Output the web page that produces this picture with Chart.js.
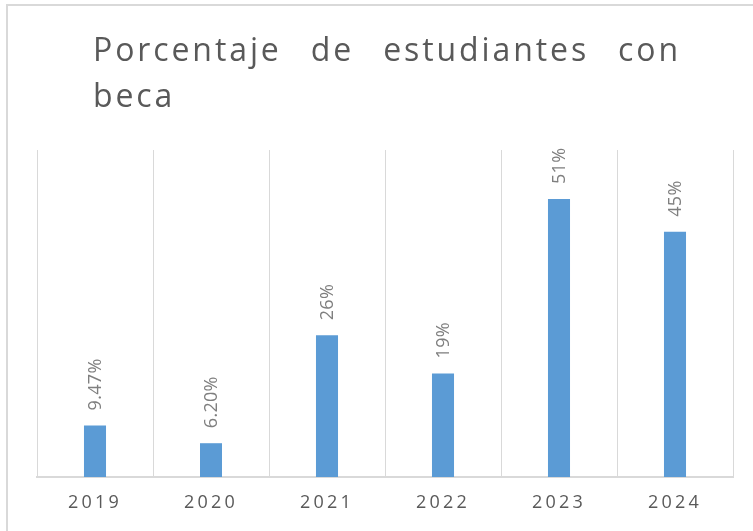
<!DOCTYPE html>
<html>
<head>
<meta charset="utf-8">
<script src="https://cdn.jsdelivr.net/npm/chart.js@4/dist/chart.umd.min.js"></script>
<style>
  html, body { margin: 0; padding: 0; background: #ffffff; overflow: hidden; }
  #wrap { position: relative; width: 753px; height: 531px; }
  #frame { position: absolute; left: 6px; top: 4px; width: 800px; height: 600px;
           border-left: 2px solid #d9d9d9; border-top: 2px solid #d9d9d9; box-sizing: border-box; }
  #title { position: absolute; left: 93px; top: 26px; width: 588px;
           font-family: "Open Sans", sans-serif; font-size: 32px; line-height: 46px;
           letter-spacing: 2.9px; color: #595959; text-align: justify; }
  #c { position: absolute; left: 0; top: 0; }
</style>
</head>
<body>
<div id="wrap">
  <div id="frame"></div>
  <canvas id="c" width="753" height="531"></canvas>
  <div id="title">Porcentaje de estudiantes con beca</div>
</div>
<script>
const categories = ["2019", "2020", "2021", "2022", "2023", "2024"];
const values = [9.47, 6.20, 26, 19, 51, 45];
const valueLabels = ["9.47%", "6.20%", "26%", "19%", "51%", "45%"];

const letterSpacingPlugin = {
  id: 'ls',
  beforeDraw(chart) { chart.ctx.letterSpacing = '3.2px'; }
};

const labelPlugin = {
  id: 'vlabels',
  afterDatasetsDraw(chart) {
    const ctx = chart.ctx;
    const meta = chart.getDatasetMeta(0);
    ctx.save();
    ctx.letterSpacing = '0.3px';
    ctx.font = '18px "Open Sans", sans-serif';
    ctx.fillStyle = '#7f7f7f';
    ctx.textAlign = 'left';
    ctx.textBaseline = 'middle';
    meta.data.forEach((bar, i) => {
      ctx.save();
      ctx.translate(bar.x + 1, bar.y - 15);
      ctx.rotate(-Math.PI / 2);
      ctx.fillText(valueLabels[i], 0, 0);
      ctx.restore();
    });
    ctx.restore();
  }
};

new Chart(document.getElementById('c'), {
  type: 'bar',
  data: {
    labels: categories,
    datasets: [{
      data: values,
      backgroundColor: '#5b9bd5',
      borderWidth: 0,
      barPercentage: 0.19,
      categoryPercentage: 1.0
    }]
  },
  options: {
    responsive: false,
    animation: false,
    devicePixelRatio: 1,
    layout: { padding: { left: 37, right: 20, top: 150, bottom: 0 } },
    plugins: { legend: { display: false }, tooltip: { enabled: false }, title: { display: false } },
    scales: {
      x: {
        grid: { display: true, color: '#d9d9d9', lineWidth: 1, drawTicks: false, offset: true },
        border: { display: true, color: '#d9d9d9', width: 2 },
        ticks: { color: '#595959', font: { family: '"Open Sans", sans-serif', size: 18 }, padding: 15, maxRotation: 0 },
        afterFit(scale) { scale.height = 54; }
      },
      y: { display: false, min: 0, max: 60 }
    }
  },
  plugins: [letterSpacingPlugin, labelPlugin]
});
</script>
</body>
</html>
